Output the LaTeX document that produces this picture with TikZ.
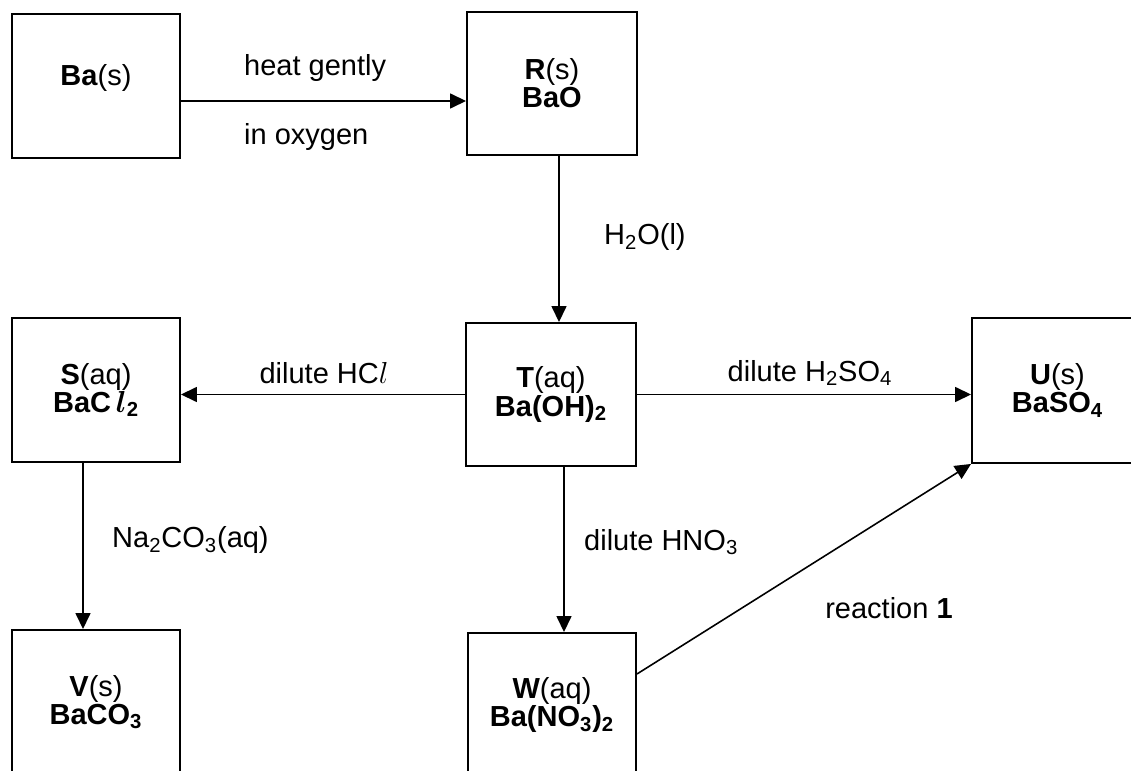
\documentclass[tikz,border=0pt]{standalone}
\usepackage{amsmath}
\usepackage{amssymb}
\usepackage{fontspec}
\setmainfont{Liberation Sans}
\usepackage{tikz}
\usetikzlibrary{arrows.meta}
\usetikzlibrary{calc}

\begin{document}
\begin{tikzpicture}[font=\fontsize{16.5pt}{16pt}\selectfont,
    box/.style={draw,line width=1.1pt,minimum width=3.36cm,minimum height=2.88cm,align=center,inner sep=0pt},
    arr/.style={line width=0.9pt,-{Triangle[length=0.32cm,width=0.3cm]}}]
            \clip (0,0) rectangle (22.62,-15.42);

            \node[box] (Ba) at (1.92,-1.72) {\textbf{Ba}(s)\\[-8pt] \strut};
            \node[box,minimum width=3.4cm,minimum height=2.86cm] (R) at (11.04,-1.67) {\textbf{R}(s)\\ \textbf{BaO}};
            \node[box,minimum width=3.4cm,minimum height=2.86cm] (T) at (11.02,-7.89) {\textbf{T}(aq)\\ \textbf{Ba(OH)\textsubscript{2}}};
            \node[box] (S) at (1.92,-7.8) {\textbf{S}(aq)\\ \textbf{BaC\,$\boldsymbol{l}$\textsubscript{2}}};
            \node[box,minimum width=3.42cm,minimum height=2.9cm] (U) at (21.15,-7.81) {\textbf{U}(s)\\ \textbf{BaSO\textsubscript{4}}};
            \node[box] (V) at (1.92,-14.04) {\textbf{V}(s)\\ \textbf{BaCO\textsubscript{3}}};
            \node[box] (W) at (11.04,-14.1) {\textbf{W}(aq)\\ \textbf{Ba(NO\textsubscript{3})\textsubscript{2}}};

            \draw[arr] ([yshift=-0.3cm]Ba.east) -- ([yshift=-0.3cm]Ba.east -| R.west);
            \node[anchor=west] (heat) at (4.76,-1.36) {heat gently};
            \node[anchor=west] (oxy) at (4.76,-2.74) {in oxygen};

            \draw[arr] ([xshift=0.14cm]R.south) -- ([xshift=0.14cm]R.south |- T.north);
            \node[anchor=west] (water) at (11.96,-4.74) {H\textsubscript{2}O(l)};

            \draw[arr] (T.west) -- (T.west -| S.east);
            \node (hcl) at (6.48,-7.46) {dilute HC$l$};

            \draw[arr] (T.east) -- (T.east -| U.west);
            \node (sulf) at (16.2,-7.46) {dilute H\textsubscript{2}SO\textsubscript{4}};

            \draw[arr] ([xshift=-0.26cm]S.south) -- ([xshift=-0.26cm]S.south |- V.north);
            \node[anchor=west] (carb) at (2.12,-10.8) {Na\textsubscript{2}CO\textsubscript{3}(aq)};

            \draw[arr] ([xshift=0.26cm]T.south) -- ([xshift=0.26cm]T.south |- W.north);
            \node[anchor=west] (nitr) at (11.56,-10.84) {dilute HNO\textsubscript{3}};

            \draw[arr] ([yshift=0.62cm]W.east) -- (U.south west);
            \node (reac) at (17.78,-12.16) {reaction \textbf{1}};
        \end{tikzpicture}
\end{document}
